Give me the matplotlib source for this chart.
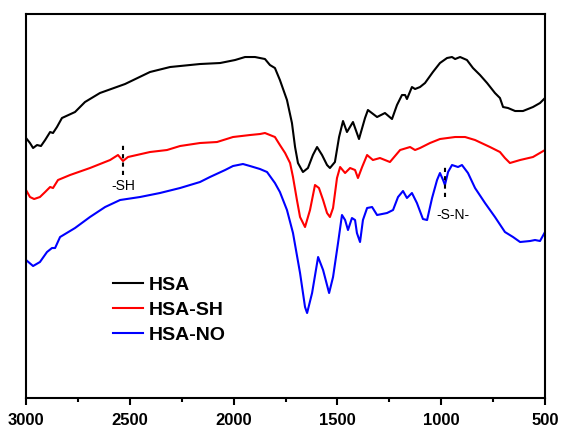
import numpy as np
import matplotlib
matplotlib.use("Agg")
import matplotlib.pyplot as plt
from matplotlib.ticker import MultipleLocator

plt.rcParams['font.family'] = ['Liberation Sans', 'DejaVu Sans']

# HSA (black), wavenumber in cm-1, transmittance in a.u.
hsa_x = [3000, 2981, 2966, 2947, 2928, 2908, 2884, 2870, 2851, 2827, 2764, 2716, 2644, 2523,
         2403, 2306, 2162, 2065, 1993, 1945, 1897, 1849, 1825, 1801, 1777, 1743, 1719, 1704,
         1690, 1666, 1642, 1618, 1598, 1574, 1550, 1536, 1512, 1492, 1473, 1454, 1425, 1396,
         1367, 1353, 1309, 1271, 1237, 1213, 1189, 1174, 1165, 1141, 1126, 1102, 1078, 1040,
         1006, 972, 948, 933, 909, 876, 847, 813, 779, 741, 717, 702, 678, 644, 606, 558, 524, 500]
hsa_y = [260, 255, 250, 253, 252, 258, 266, 265, 271, 280, 286, 296, 305, 314,
         326, 331, 334, 335, 338, 341, 341, 339, 333, 330, 318, 298, 275, 251,
         235, 226, 230, 243, 251, 243, 233, 230, 236, 261, 277, 266, 276, 259,
         280, 288, 281, 285, 279, 293, 303, 303, 299, 311, 309, 311, 315, 326,
         335, 340, 341, 339, 341, 338, 330, 323, 315, 305, 300, 291, 290, 287, 287, 291, 295, 300]

# HSA-SH (red)
sh_x = [3000, 2981, 2961, 2933, 2908, 2884, 2870, 2846, 2788, 2692, 2595, 2557, 2533, 2509,
        2403, 2321, 2258, 2162, 2080, 2003, 1921, 1873, 1849, 1801, 1777, 1752, 1728, 1714,
        1695, 1680, 1656, 1632, 1608, 1589, 1569, 1550, 1536, 1521, 1502, 1487, 1463, 1439,
        1415, 1401, 1381, 1357, 1329, 1295, 1247, 1198, 1150, 1126, 1102, 1054, 1006, 933,
        885, 837, 765, 717, 693, 669, 620, 558, 500]
sh_y = [208, 201, 199, 201, 206, 211, 210, 218, 223, 230, 238, 243, 237, 241,
        246, 248, 252, 255, 256, 261, 263, 264, 265, 261, 253, 245, 235, 221,
        198, 181, 171, 188, 213, 210, 198, 185, 181, 190, 220, 231, 225, 230,
        228, 220, 231, 243, 238, 240, 236, 248, 251, 248, 250, 255, 259, 261,
        261, 258, 251, 246, 240, 235, 238, 241, 248]

# HSA-NO (blue)
no_x = [3000, 2966, 2933, 2899, 2875, 2860, 2836, 2764, 2692, 2619, 2547, 2451, 2355, 2258,
        2162, 2114, 2041, 2003, 1955, 1921, 1873, 1839, 1801, 1777, 1743, 1714, 1680, 1656,
        1646, 1622, 1593, 1569, 1540, 1521, 1497, 1478, 1463, 1449, 1430, 1415, 1406, 1391,
        1377, 1357, 1333, 1309, 1261, 1232, 1208, 1184, 1165, 1141, 1117, 1088, 1068, 1044,
        1020, 1006, 991, 982, 967, 948, 919, 900, 871, 837, 789, 741, 693, 654, 620, 572,
        548, 524, 500]
no_y = [138, 132, 136, 146, 150, 150, 161, 170, 181, 191, 198, 201, 205, 210,
        216, 221, 228, 232, 234, 232, 229, 226, 215, 206, 188, 165, 125, 91,
        85, 105, 141, 128, 105, 121, 155, 183, 178, 168, 180, 178, 165, 156,
        178, 190, 191, 183, 185, 188, 201, 207, 200, 205, 195, 179, 178, 200,
        218, 225, 218, 213, 226, 233, 231, 233, 225, 210, 195, 181, 166, 161, 156, 157,
        158, 157, 166]

labels = ['HSA', 'HSA-SH', 'HSA-NO']
colors = ['black', 'red', 'blue']

# band markers: (wavenumber, line bottom, line top, text x, text y, text)
sh_mark = (2533, 223, 255, 2533, 212, '-SH')
sn_mark = (982, 201, 232, 943, 183, '-S-N-')

fig = plt.figure(figsize=(5.67, 4.30), dpi=100)
ax = fig.add_axes([0.0459, 0.0744, 0.9153, 0.893])

for xs, ys, c, lab in zip([hsa_x, sh_x, no_x], [hsa_y, sh_y, no_y], colors, labels):
    ax.plot(xs, ys, color=c, lw=1.5, label=lab)

for w, y0, y1, tx, ty, txt in [sh_mark, sn_mark]:
    ax.plot([w, w], [y0, y1], color='black', lw=1.5, ls=(0, (2, 2)))
    ax.text(tx, ty, txt, ha='center', va='center', fontsize=10)

ax.set_xlim(3000, 500)
ax.set_ylim(0, 384)
ax.set_yticks([])
ax.xaxis.set_major_locator(MultipleLocator(500))
ax.xaxis.set_minor_locator(MultipleLocator(250))
ax.tick_params(axis='x', which='major', direction='out', length=5, width=1.5, pad=6,
               labelsize=12)
ax.tick_params(axis='x', which='minor', direction='out', length=3, width=1.5)
for lab in ax.get_xticklabels():
    lab.set_fontweight('bold')
for sp in ax.spines.values():
    sp.set_linewidth(1.5)

leg = ax.legend(loc='center left', bbox_to_anchor=(0.168, 0.229), frameon=False,
                prop={'weight': 'bold', 'size': 14}, handlelength=1.55,
                handletextpad=0.3, labelspacing=0.38, borderpad=0, borderaxespad=0)

fig.savefig('out.png', dpi=100)
